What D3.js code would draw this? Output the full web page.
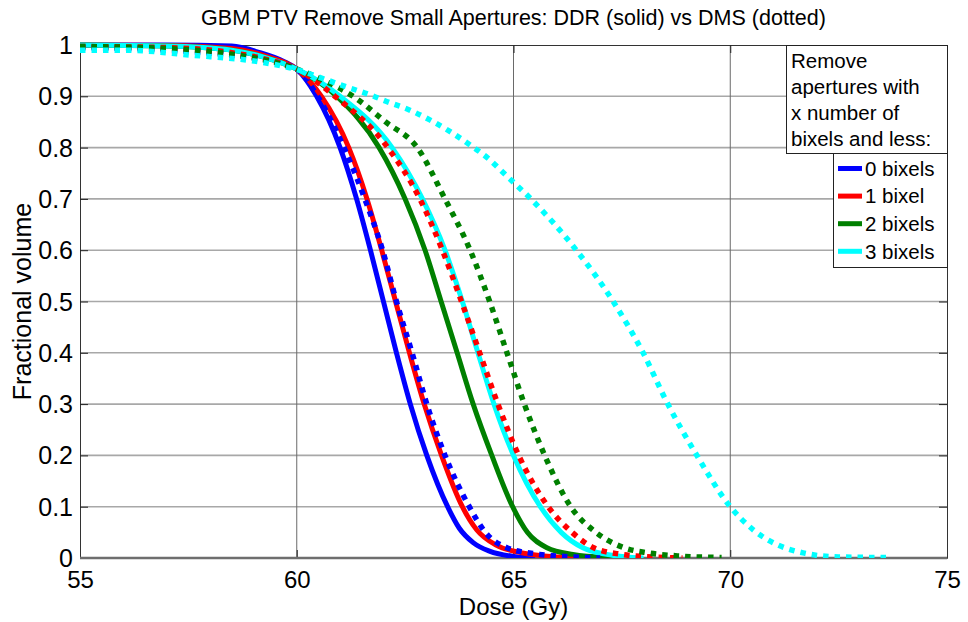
<!DOCTYPE html>
<html>
<head>
<meta charset="utf-8">
<script src="https://cdn.jsdelivr.net/npm/d3@7/dist/d3.min.js"></script>
<style>
    body { margin: 0; background: #fff; }
    svg { display: block; font-family: "Liberation Sans", Arial, sans-serif; }
</style>
</head>
<body>
<svg id="chart" width="968" height="622"></svg>
<script>
/* DDR (solid) and DMS (dotted) DVH curves, [dose Gy, fractional volume] */
const ddr0 = [[55, 1], [57, 1], [58.5, 0.998], [59.15, 0.985], [59.7, 0.968], [60, 0.953], [60.46, 0.9], [61, 0.8],
    [61.38, 0.7], [61.7, 0.6], [62, 0.5], [62.3, 0.4], [62.62, 0.3], [63, 0.2], [63.48, 0.1], [63.75, 0.058],
    [64.07, 0.03], [64.46, 0.013], [65, 0.003], [65.5, 0]];
const ddr1 = [[55, 1], [57, 0.999], [58.5, 0.993], [59.3, 0.978], [60, 0.953], [60.57, 0.9], [61.2, 0.8], [61.62, 0.7],
    [61.96, 0.6], [62.28, 0.5], [62.6, 0.4], [62.94, 0.3], [63.34, 0.2], [63.82, 0.1], [64.15, 0.055], [64.6, 0.025],
    [65.2, 0.01], [66, 0.002], [66.5, 0]];
const ddr2 = [[55, 1], [57, 0.998], [58.5, 0.99], [59.3, 0.975], [60, 0.953], [60.92, 0.9], [61.9, 0.8], [62.5, 0.7],
    [62.96, 0.6], [63.33, 0.5], [63.7, 0.4], [64.07, 0.3], [64.5, 0.2], [64.98, 0.1], [65.32, 0.05], [65.77, 0.02],
    [66.37, 0.007], [67.2, 0.001], [67.6, 0]];
const ddr3 = [[55, 1], [57, 0.998], [58.5, 0.99], [59.3, 0.975], [60, 0.953], [61, 0.9], [62.2, 0.8], [62.9, 0.7],
    [63.42, 0.6], [63.82, 0.5], [64.18, 0.4], [64.55, 0.3], [65, 0.2], [65.62, 0.1], [66.1, 0.05], [66.6, 0.02],
    [67.15, 0.007], [68, 0]];
const dms0 = [[55, 0.995], [57, 0.99], [58.5, 0.98], [59.3, 0.97], [60, 0.953], [60.48, 0.9], [61.09, 0.8], [61.57, 0.7],
    [61.98, 0.6], [62.3, 0.5], [62.66, 0.4], [63, 0.3], [63.42, 0.2], [63.98, 0.1], [64.35, 0.05], [64.85, 0.02],
    [65.6, 0.007], [66.4, 0.002], [67, 0]];
const dms1 = [[55, 0.997], [57, 0.995], [58.5, 0.985], [59.3, 0.972], [60, 0.953], [60.88, 0.9], [62.1, 0.8], [62.84, 0.7],
    [63.36, 0.6], [63.8, 0.5], [64.22, 0.4], [64.64, 0.3], [65.12, 0.2], [65.8, 0.1], [66.35, 0.05], [66.85, 0.02],
    [67.5, 0.007], [68.2, 0.002], [68.9, 0]];
const dms2 = [[55, 0.997], [57, 0.993], [58.5, 0.982], [59.3, 0.97], [60, 0.953], [60.6, 0.932], [61.3, 0.9], [62.05, 0.85],
    [62.78, 0.8], [63.42, 0.7], [64, 0.6], [64.45, 0.5], [64.85, 0.4], [65.25, 0.3], [65.72, 0.2], [66.32, 0.1],
    [66.9, 0.05], [67.55, 0.02], [68.1, 0.01], [68.8, 0.004], [69.8, 0.001]];
const dms3 = [[55, 0.99], [56, 0.99], [57.6, 0.98], [59.15, 0.967], [60, 0.952], [60.69, 0.932], [61.23, 0.916],
    [61.69, 0.903], [62.07, 0.89], [62.61, 0.873], [63.07, 0.854], [63.54, 0.831], [64, 0.805], [64.4, 0.78],
    [64.84, 0.745], [65.4, 0.7], [66.45, 0.6], [67.3, 0.5], [67.99, 0.4], [68.56, 0.3], [69.23, 0.2], [70, 0.1],
    [70.53, 0.055], [71.08, 0.026], [71.68, 0.01], [72.5, 0.002], [73.6, 0.001]];

const seriesNames = ["0 bixels", "1 bixel", "2 bixels", "3 bixels"];
const seriesColors = ["#0000ff", "#ff0000", "#008000", "#00ffff"];
const solidData = [ddr0, ddr1, ddr2, ddr3];
const dottedData = [dms0, dms1, dms2, dms3];

const xTicks = [55, 60, 65, 70, 75];
const yTicks = [0, 0.1, 0.2, 0.3, 0.4, 0.5, 0.6, 0.7, 0.8, 0.9, 1];
const legendTitle = ["Remove", "apertures with", "x number of", "bixels and less:"];

const plot = { left: 80, right: 947, top: 45, bottom: 558 };

const svg = d3.select("#chart");

const x = d3.scaleLinear().domain([55, 75]).range([plot.left, plot.right]);
const y = d3.scaleLinear().domain([0, 1]).range([plot.bottom, plot.top]);

// grid
const grid = svg.append("g").classed("grid", true);
grid.selectAll("line.h")
    .data(yTicks.slice(1, -1))
    .join("line")
    .attr("x1", plot.left).attr("x2", plot.right)
    .attr("y1", d => y(d)).attr("y2", d => y(d))
    .attr("stroke", "#a8a8a8").attr("stroke-width", 1.6);
grid.selectAll("line.v")
    .data(xTicks.slice(1, -1))
    .join("line")
    .attr("y1", plot.top).attr("y2", plot.bottom)
    .attr("x1", d => x(d)).attr("x2", d => x(d))
    .attr("stroke", "#6a6a6a").attr("stroke-width", 1);

// axes with inward ticks
const font = "\"Liberation Sans\", Arial, sans-serif";
const xAxis = svg.append("g")
    .attr("transform", `translate(0,${plot.bottom})`)
    .call(d3.axisBottom(x).tickValues(xTicks).tickSizeInner(-8).tickSizeOuter(0).tickPadding(13));
const yAxis = svg.append("g")
    .attr("transform", `translate(${plot.left},0)`)
    .call(d3.axisLeft(y).tickValues(yTicks).tickFormat(d3.format("")).tickSizeInner(-8).tickSizeOuter(0).tickPadding(7));
svg.append("g")
    .attr("transform", `translate(0,${plot.top})`)
    .call(d3.axisTop(x).tickValues(xTicks).tickSizeInner(-8).tickSizeOuter(0).tickFormat(""));
svg.append("g")
    .attr("transform", `translate(${plot.right},0)`)
    .call(d3.axisRight(y).tickValues(yTicks).tickSizeInner(-8).tickSizeOuter(0).tickFormat(""));

svg.selectAll(".domain").attr("stroke", "#333");
svg.selectAll(".tick line").attr("stroke", "#222");
xAxis.selectAll("text").attr("font-size", 24).attr("font-family", font).attr("fill", "#000");
yAxis.selectAll("text").attr("font-size", 25).attr("font-family", font).attr("fill", "#000").attr("dy", "0.34em");

// bottom axis line (gray, heavier)
svg.append("line")
    .attr("x1", plot.left).attr("x2", plot.right)
    .attr("y1", plot.bottom).attr("y2", plot.bottom)
    .attr("stroke", "#6e6e6e").attr("stroke-width", 2.5);

// curves
const line = d3.line()
    .x(d => x(d[0]))
    .y(d => y(d[1]))
    .curve(d3.curveMonotoneX);

svg.append("defs").append("clipPath").attr("id", "clip")
    .append("rect")
    .attr("x", plot.left).attr("y", plot.top - 3)
    .attr("width", plot.right - plot.left).attr("height", plot.bottom - plot.top + 3);

const curves = svg.append("g").attr("clip-path", "url(#clip)");
curves.selectAll("path.solid")
    .data(solidData)
    .join("path")
    .classed("solid", true)
    .attr("d", line)
    .attr("fill", "none")
    .attr("stroke", (d, i) => seriesColors[i])
    .attr("stroke-width", 5);
curves.selectAll("path.dotted")
    .data(dottedData)
    .join("path")
    .classed("dotted", true)
    .attr("d", line)
    .attr("fill", "none")
    .attr("stroke", (d, i) => seriesColors[i])
    .attr("stroke-width", 5.5)
    .attr("stroke-dasharray", "5.5,6");

// titles
svg.append("text")
    .attr("x", (plot.left + plot.right) / 2).attr("y", 25)
    .attr("text-anchor", "middle").attr("font-size", 21.5)
    .text("GBM PTV Remove Small Apertures: DDR (solid) vs DMS (dotted)");
svg.append("text")
    .attr("x", (plot.left + plot.right) / 2).attr("y", 615)
    .attr("text-anchor", "middle").attr("font-size", 24)
    .text("Dose (Gy)");
svg.append("text")
    .attr("transform", `translate(31,${(plot.top + plot.bottom) / 2}) rotate(-90)`)
    .attr("text-anchor", "middle").attr("font-size", 25)
    .text("Fractional volume");

// legend
const legend = svg.append("g").classed("legend", true);
legend.append("rect")
    .attr("x", 786.5).attr("y", 45.5).attr("width", 161).attr("height", 108)
    .attr("fill", "#fff").attr("stroke", "#222");
legend.selectAll("text.head")
    .data(legendTitle)
    .join("text")
    .classed("head", true)
    .attr("x", 791)
    .attr("y", (d, i) => 68 + i * 26)
    .attr("font-size", 20.5)
    .text(d => d);

legend.append("rect")
    .attr("x", 833.5).attr("y", 153.5).attr("width", 114).attr("height", 114)
    .attr("fill", "#fff").attr("stroke", "#222");
const items = legend.selectAll("g.item")
    .data(seriesNames)
    .join("g")
    .classed("item", true)
    .attr("transform", (d, i) => `translate(0,${168.5 + i * 27.6})`);
items.append("line")
    .attr("x1", 838).attr("x2", 862)
    .attr("stroke", (d, i) => seriesColors[i])
    .attr("stroke-width", 5);
items.append("text")
    .attr("x", 865).attr("dy", "0.36em")
    .attr("font-size", 20.5)
    .text(d => d);
</script>
</body>
</html>
